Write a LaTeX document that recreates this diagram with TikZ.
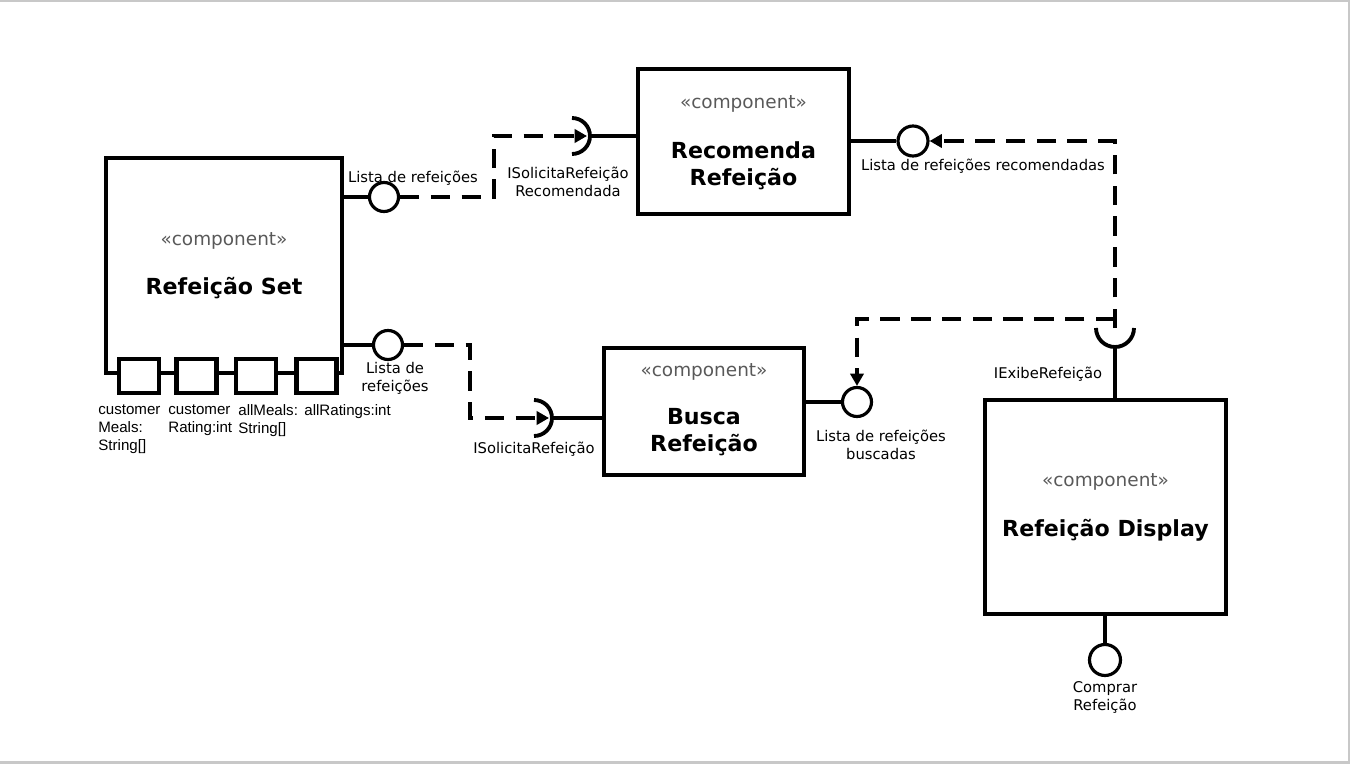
\documentclass[tikz,border=0pt]{standalone}
\usepackage{fontspec}
\setmainfont{DejaVu Sans}
\newfontfamily\arialfont{Liberation Sans}
\usetikzlibrary{arrows.meta}
\definecolor{stereogray}{HTML}{595959}
\definecolor{framegray}{HTML}{C8C8C8}
\tikzset{
  comp/.style={draw, line width=2.3pt, inner sep=0pt},
  stereo/.style={text=stereogray, font=\fontsize{10.5}{12.6}\selectfont},
  ctitle/.style={font=\bfseries\fontsize{12.6}{15.3}\selectfont, align=center},
  portbox/.style={draw, fill=white, line width=2.3pt, minimum width=0.8cm, minimum height=0.68cm, inner sep=0pt},
  provided/.style={circle, draw, fill=white, line width=1.8pt, minimum size=0.58cm, inner sep=0pt},
  wire/.style={line width=2.2pt},
  dep/.style={line width=2.2pt, dash pattern=on 11pt off 6.5pt, -{Triangle[length=7pt,width=7.5pt]}},
  lbl/.style={font=\fontsize{8.4}{10.2}\selectfont, align=center, inner sep=0pt},
  attr/.style={font=\arialfont\fontsize{8.6}{10.4}\selectfont, align=left, anchor=north west, inner sep=0pt},
}
\begin{document}
\begin{tikzpicture}[x=0.02cm, y=-0.02cm]
\useasboundingbox (0,0) rectangle (1350,764);
% frame
\draw[framegray, line width=0.8pt] (0,1) -- (1350,1);
\draw[framegray, line width=1.2pt] (1348.7,0) -- (1348.7,764);
\draw[framegray, line width=1.4pt] (0,762.5) -- (1350,762.5);

% components
\node[comp, minimum width=4.72cm, minimum height=4.3cm] (set) at (224,265.5) {};
\node[stereo] (set st) at (224,241) {«component»};
\node[ctitle] (set t) at (224,288) {Refeição Set};

\node[comp, minimum width=4.22cm, minimum height=2.9cm] (reco) at (743.5,141.5) {};
\node[stereo] (reco st) at (743.5,104) {«component»};
\node[ctitle] (reco t) at (743.5,165.5) {Recomenda\\Refeição};

\node[comp, minimum width=4.0cm, minimum height=2.54cm] (busca) at (704,411.5) {};
\node[stereo] (busca st) at (704,372) {«component»};
\node[ctitle] (busca t) at (704,432.5) {Busca\\Refeição};

\node[comp, minimum width=4.82cm, minimum height=4.28cm] (disp) at (1105.5,507) {};
\node[stereo] (disp st) at (1105.5,482) {«component»};
\node[ctitle] (disp t) at (1105.5,530) {Refeição Display};

% ports of Refeicao Set
\foreach \x [count=\i] in {139,196.5,256,316.5}
  \node[portbox] (p\i) at (\x,376) {};
\node[attr] (a1) at (98,404) {customer\\Meals:\\String[]};
\node[attr] (a2) at (168,404) {customer\\Rating:int};
\node[attr] (a3) at (238,404) {allMeals:\\String[]};
\node[attr] (a4) at (304,404) {allRatings:int};

% provided interfaces
\node[provided] (c1) at (384,197) {};
\node[provided] (c2) at (388,345) {};
\node[provided, minimum size=0.6cm] (c3) at (913,141) {};
\node[provided] (c4) at (857,402) {};
\node[provided, minimum size=0.62cm] (c5) at (1105,660) {};
\draw[wire] (set.east |- c1) -- (c1);
\draw[wire] (set.east |- c2) -- (c2);
\draw[wire] (reco.east |- c3) -- (c3);
\draw[wire] (busca.east |- c4) -- (c4);
\draw[wire] (disp.south -| c5) -- (c5);

% required interfaces
\coordinate (s1) at (572,136);
\coordinate (s2) at (534,418);
\coordinate (s3) at (1115,328);
\draw[wire] ([yshift=0.36cm]s1) arc[start angle=90, end angle=-90, radius=0.36cm];
\draw[wire] ([yshift=0.36cm]s2) arc[start angle=90, end angle=-90, radius=0.36cm];
\draw[wire] ([xshift=-0.38cm]s3) arc[start angle=180, end angle=360, radius=0.38cm];
\draw[wire] ([xshift=0.36cm]s1) -- (s1 -| reco.west);
\draw[wire] ([xshift=0.36cm]s2) -- (s2 -| busca.west);
\draw[wire] ([yshift=-0.38cm]s3) -- (s3 |- disp.north);

% dependencies
\coordinate (k1) at (494,0);
\coordinate (k2) at (470,0);
\coordinate (k3) at (1115,319);
\coordinate (t1) at (587,136);
\coordinate (t2) at (549,418);
\draw[dep] (c1) -- (c1 -| k1) |- (t1);
\draw[dep] (c2) -- (c2 -| k2) |- (t2);
\draw[dep] (s3) |- (c3);
\draw[dep] (k3) -| (c4);

% labels
\node[lbl] (l1) at (413,178) {Lista de refeições};
\node[lbl] (l2) at (568,182) {ISolicitaRefeição\\Recomendada};
\node[lbl] (l3) at (983,166) {Lista de refeições recomendadas};
\node[lbl] (l4) at (395,378) {Lista de\\refeições};
\node[lbl] (l5) at (534,449) {ISolicitaRefeição};
\node[lbl] (l6) at (881,445) {Lista de refeições\\buscadas};
\node[lbl] (l7) at (1048,374) {IExibeRefeição};
\node[lbl] (l8) at (1105,697) {Comprar\\Refeição};
\end{tikzpicture}
\end{document}
